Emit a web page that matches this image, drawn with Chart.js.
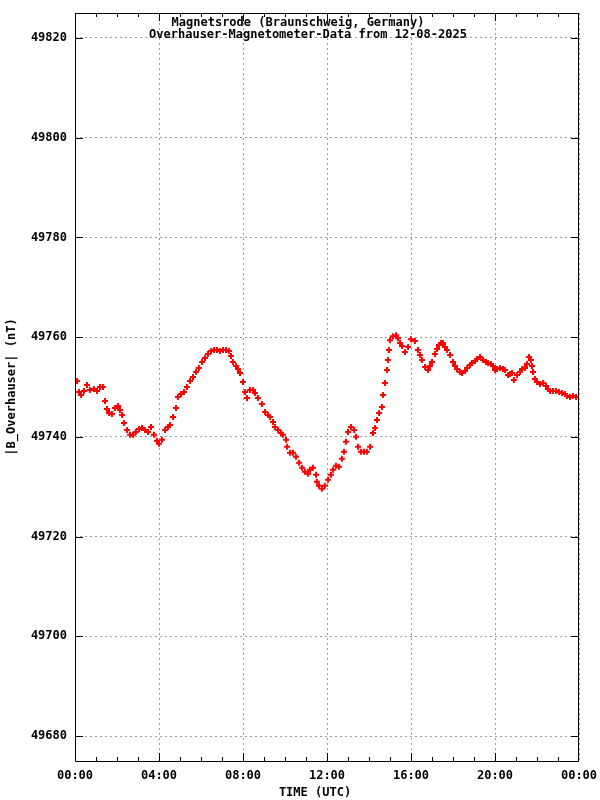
<!DOCTYPE html>
<html>
<head>
<meta charset="utf-8">
<script src="https://cdn.jsdelivr.net/npm/chart.js@4.4.1/dist/chart.umd.min.js"></script>
<style>
    html, body { margin: 0; padding: 0; background: #fff; }
    canvas { display: block; }
</style>
</head>
<body>
<canvas id="mag_chart" width="600" height="800"></canvas>
<script>
// ========== DATA ==========

const titleLines = [
    'Magnetsrode (Braunschweig, Germany)',
    'Overhauser-Magnetometer-Data from 12-08-2025'
];
const xAxisTitle = 'TIME (UTC)';
const yAxisTitle = '|B_Overhauser| (nT)';

// time of day in hours (UTC)
const timeHours = [
    0.00, 0.10, 0.19, 0.29, 0.43, 0.57, 0.71, 0.90, 1.05, 1.19,
    1.33, 1.43, 1.52, 1.62, 1.76, 1.90, 2.05, 2.14, 2.24, 2.33,
    2.48, 2.62, 2.76, 2.90, 3.05, 3.19, 3.33, 3.48, 3.62, 3.76,
    3.90, 4.00, 4.14, 4.29, 4.43, 4.52, 4.67, 4.81, 4.90, 5.05,
    5.19, 5.33, 5.48, 5.62, 5.76, 5.90, 6.05, 6.19, 6.33, 6.48,
    6.62, 6.76, 6.90, 7.05, 7.19, 7.33, 7.43, 7.52, 7.67, 7.76,
    7.86, 8.00, 8.10, 8.19, 8.33, 8.48, 8.57, 8.71, 8.90, 9.05,
    9.19, 9.29, 9.43, 9.52, 9.67, 9.81, 9.90, 10.05, 10.10, 10.24,
    10.38, 10.52, 10.67, 10.81, 10.95, 11.10, 11.19, 11.33, 11.48, 11.52,
    11.62, 11.76, 11.90, 12.05, 12.19, 12.29, 12.43, 12.57, 12.71, 12.81,
    12.90, 13.00, 13.14, 13.29, 13.38, 13.48, 13.62, 13.76, 13.90, 14.05,
    14.19, 14.29, 14.38, 14.48, 14.62, 14.67, 14.76, 14.86, 14.90, 14.95,
    15.00, 15.14, 15.29, 15.38, 15.48, 15.57, 15.71, 15.86, 16.00, 16.19,
    16.33, 16.43, 16.52, 16.67, 16.81, 16.90, 17.00, 17.14, 17.24, 17.33,
    17.43, 17.52, 17.62, 17.71, 17.86, 18.00, 18.10, 18.19, 18.33, 18.43,
    18.57, 18.67, 18.81, 18.90, 19.05, 19.14, 19.29, 19.43, 19.57, 19.67,
    19.81, 19.90, 20.00, 20.10, 20.24, 20.38, 20.48, 20.62, 20.71, 20.81,
    20.90, 21.05, 21.19, 21.29, 21.43, 21.52, 21.62, 21.71, 21.76, 21.81,
    21.90, 22.00, 22.14, 22.29, 22.43, 22.52, 22.62, 22.76, 22.90, 23.05,
    23.19, 23.33, 23.43, 23.57, 23.71, 23.86, 24.00
];

// total field in nT
const fieldValues = [
    49750.8, 49751.2, 49749.0, 49748.4, 49749.2, 49750.4, 49749.4, 49749.6, 49749.2, 49750.0,
    49750.0, 49747.2, 49745.6, 49744.8, 49744.6, 49745.8, 49746.2, 49745.4, 49744.4, 49742.8,
    49741.4, 49740.4, 49740.4, 49741.0, 49741.6, 49741.8, 49741.4, 49741.0, 49742.0, 49740.4,
    49739.2, 49738.6, 49739.4, 49741.4, 49742.0, 49742.4, 49744.0, 49745.8, 49748.0, 49748.6,
    49749.0, 49750.0, 49751.2, 49752.0, 49753.0, 49753.8, 49755.0, 49755.8, 49756.6, 49757.2,
    49757.4, 49757.4, 49757.2, 49757.4, 49757.4, 49757.2, 49756.2, 49755.0, 49754.2, 49753.6,
    49752.8, 49751.0, 49749.0, 49747.8, 49749.4, 49749.4, 49748.8, 49747.8, 49746.6, 49745.0,
    49744.4, 49744.0, 49743.0, 49742.0, 49741.4, 49740.8, 49740.4, 49739.4, 49738.0, 49736.8,
    49736.8, 49736.0, 49734.8, 49733.8, 49733.0, 49732.6, 49733.4, 49733.8, 49732.4, 49731.0,
    49730.2, 49729.6, 49730.2, 49731.4, 49732.4, 49733.4, 49734.2, 49734.0, 49735.6, 49737.0,
    49739.0, 49741.0, 49742.0, 49741.4, 49740.0, 49738.0, 49737.0, 49737.0, 49737.0, 49738.0,
    49740.8, 49741.8, 49743.4, 49744.8, 49746.0, 49748.4, 49750.8, 49753.4, 49755.4, 49757.4,
    49759.4, 49760.2, 49760.4, 49759.8, 49758.8, 49758.2, 49757.0, 49758.0, 49759.6, 49759.2,
    49757.4, 49756.4, 49755.4, 49754.0, 49753.4, 49754.2, 49755.0, 49756.6, 49757.6, 49758.4,
    49758.8, 49758.8, 49758.0, 49757.4, 49756.4, 49755.0, 49754.2, 49753.6, 49753.0, 49752.8,
    49753.2, 49753.8, 49754.4, 49754.8, 49755.2, 49755.6, 49756.0, 49755.4, 49755.0, 49754.8,
    49754.6, 49754.2, 49753.4, 49753.6, 49753.8, 49753.6, 49753.4, 49752.4, 49752.6, 49752.8,
    49751.4, 49752.4, 49753.0, 49753.6, 49753.8, 49754.6, 49756.0, 49755.4, 49754.2, 49753.0,
    49751.6, 49751.0, 49750.6, 49750.8, 49750.2, 49749.6, 49749.2, 49749.2, 49749.2, 49749.0,
    49748.8, 49748.6, 49748.2, 49748.0, 49748.2, 49748.0, 49748.0
];

// axis ticks
const xMajorTicks = [0, 4, 8, 12, 16, 20, 24];
const xMinorTicks = [1, 2, 3, 5, 6, 7, 9, 10, 11, 13, 14, 15, 17, 18, 19, 21, 22, 23];
const yMajorTicks = [49680, 49700, 49720, 49740, 49760, 49780, 49800, 49820];

const FONT_FAMILY = '"DejaVu Sans Mono", "Liberation Mono", monospace';

function formatHour(h) {
    return String(h % 24).padStart(2, '0') + ':00';
}

// frame, inward ticks and the texts gnuplot puts around the plot
const framePlugin = {
    id: 'gnuplotFrame',
    afterDraw(chart) {
        const { ctx, chartArea, scales } = chart;
        const { left, right, top, bottom } = chartArea;
        const xPix = h => Math.min(Math.max(Math.round(scales.x.getPixelForValue(h)), left), right - 1) + 0.5;

        ctx.save();
        ctx.strokeStyle = '#000';
        ctx.lineWidth = 1;
        ctx.beginPath();
        ctx.rect(left + 0.5, top + 0.5, right - left - 1, bottom - top);

        xMajorTicks.forEach(h => {
            const px = xPix(h);
            ctx.moveTo(px, bottom); ctx.lineTo(px, bottom - 8);
            ctx.moveTo(px, top); ctx.lineTo(px, top + 8);
        });
        xMinorTicks.forEach(h => {
            const px = xPix(h);
            ctx.moveTo(px, bottom); ctx.lineTo(px, bottom - 4);
            ctx.moveTo(px, top); ctx.lineTo(px, top + 4);
        });
        yMajorTicks.forEach(v => {
            const py = Math.round(scales.y.getPixelForValue(v)) + 0.5;
            ctx.moveTo(left, py); ctx.lineTo(left + 8, py);
            ctx.moveTo(right, py); ctx.lineTo(right - 8, py);
        });
        ctx.stroke();

        ctx.fillStyle = '#000';
        ctx.font = 'bold 12px ' + FONT_FAMILY;
        ctx.textAlign = 'center';
        ctx.textBaseline = 'middle';
        ctx.fillText(titleLines[0], 298, 23);
        ctx.fillText(titleLines[1], 308, 35);
        ctx.fillText(xAxisTitle, 315, 793);

        ctx.translate(12, 387);
        ctx.rotate(-Math.PI / 2);
        ctx.fillText(yAxisTitle, 0, 0);
        ctx.restore();
    }
};

function renderMagChart() {
    const ctx = document.getElementById('mag_chart').getContext('2d');
    const points = timeHours.map((h, i) => ({ x: h, y: fieldValues[i] }));

    window.magChart = new Chart(ctx, {
        type: 'scatter',
        data: {
            datasets: [{
                label: 'B_Overhauser',
                data: points,
                pointStyle: 'cross',
                pointRadius: 3,
                pointBorderWidth: 2,
                borderColor: '#ff0000',
                backgroundColor: '#ff0000',
                pointHoverRadius: 3
            }]
        },
        options: {
            responsive: false,
            animation: false,
            devicePixelRatio: 1,
            layout: {
                padding: { top: 13, right: 21, left: 0, bottom: 0 }
            },
            plugins: {
                legend: { display: false },
                title: { display: false },
                tooltip: { enabled: false }
            },
            scales: {
                x: {
                    type: 'linear',
                    position: 'bottom',
                    min: 0,
                    max: 24,
                    afterFit(scale) {
                        scale.height = 39;
                        scale.paddingLeft = 0;
                        scale.paddingRight = 0;
                    },
                    afterBuildTicks(scale) {
                        scale.ticks = xMajorTicks.map(v => ({ value: v }));
                    },
                    grid: { color: '#999999', lineWidth: 1, drawTicks: false },
                    border: { display: false, dash: [2, 3] },
                    ticks: {
                        padding: 8,
                        color: '#000',
                        maxRotation: 0,
                        font: { family: FONT_FAMILY, size: 12, weight: 'bold' },
                        callback: value => formatHour(value)
                    }
                },
                y: {
                    type: 'linear',
                    position: 'left',
                    min: 49675,
                    max: 49825,
                    afterFit(scale) {
                        scale.width = 75;
                        scale.paddingTop = 0;
                        scale.paddingBottom = 0;
                    },
                    afterBuildTicks(scale) {
                        scale.ticks = yMajorTicks.map(v => ({ value: v }));
                    },
                    grid: { color: '#999999', lineWidth: 1, drawTicks: false },
                    border: { display: false, dash: [2, 3] },
                    ticks: {
                        padding: 8,
                        color: '#000',
                        font: { family: FONT_FAMILY, size: 12, weight: 'bold' },
                        callback: value => String(value)
                    }
                }
            }
        },
        plugins: [framePlugin]
    });
}

renderMagChart();
</script>
</body>
</html>
